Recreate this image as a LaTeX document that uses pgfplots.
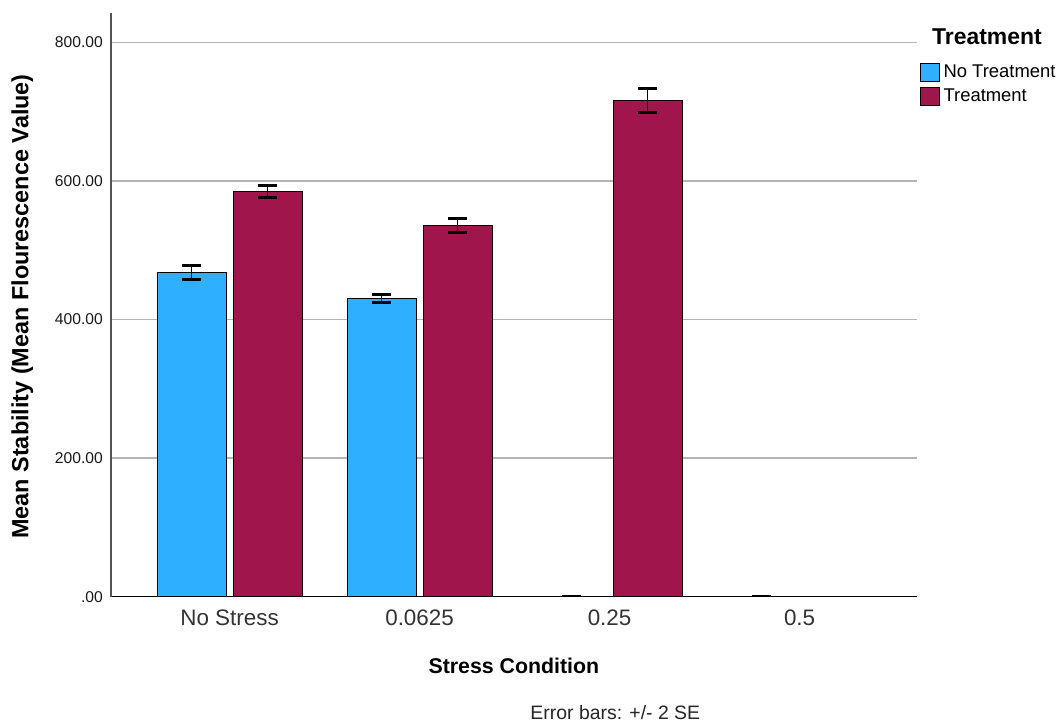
\documentclass[border=0pt]{standalone}
\usepackage{pgfplots}
\pgfplotsset{compat=1.18}
\usepackage{pgfplotstable}
\usepackage{fontspec}
\setmainfont{Liberation Sans}

\definecolor{ntblue}{RGB}{46,175,255}
\definecolor{tmaroon}{RGB}{160,22,76}
\definecolor{gridgrey}{RGB}{180,180,180}
\definecolor{axisgrey}{RGB}{85,85,85}

% mean stability and +/- 2 SE per stress condition (0 = No Stress, 1 = 0.0625, 2 = 0.25, 3 = 0.5)
\pgfplotstableread{
x y err
0 468.4 10.1
1 430.3 6.3
2 0 0
3 0 0
}\notreat
\pgfplotstableread{
x y err
0 584.8 9.2
1 536.0 9.8
2 716.0 17.3
}\treat

\pgfplotsset{
  sebars/.style={
    error bars/.cd, y dir=both, y explicit, error mark=|,
    error bar style={line width=1.5bp, black},
    error mark options={black, mark size=9.5bp, line width=3bp},
  },
}

\begin{document}
\begin{tikzpicture}
\useasboundingbox (0,0) rectangle (1059bp,721bp);
\begin{axis}[
  at={(111bp,124.3bp)}, anchor=south west,
  scale only axis, width=806bp, height=584bp,
  xmin=-0.624, xmax=3.618, ymin=0, ymax=843,
  axis x line=bottom, axis y line=left,
  x axis line style={black, line width=1.5bp, -},
  y axis line style={axisgrey, line width=1.5bp, -},
  major tick length=0pt,
  xtick={0,1,2,3},
  xticklabels={No Stress,0.0625,0.25,0.5},
  ytick={0,200,400,600,800},
  yticklabels={.00,200.00,400.00,600.00,800.00},
  ymajorgrids, grid style={gridgrey, line width=1.5bp},
  xticklabel style={font=\fontsize{22.5}{25}\selectfont, text=black!80, inner sep=0pt, anchor=north},
  xticklabel shift=12.5bp,
  yticklabel style={font=\fontsize{15.7}{18}\selectfont, text=black!90, inner sep=0pt, anchor=east},
  yticklabel shift=8bp,
  xlabel={Stress Condition},
  xlabel style={at={(axis description cs:0.4999,-0.1307)}, anchor=base, inner sep=0pt,
    font=\bfseries\fontsize{21.4}{24}\selectfont},
  ylabel={Mean Stability (Mean Flourescence Value)},
  ylabel style={at={(axis description cs:-0.1024,0.4969)}, anchor=base, inner sep=0pt, rotate=0,
    font=\bfseries\fontsize{23.5}{26}\selectfont},
  ybar=7bp, bar width=69bp,
  legend image code/.code={\draw[#1, line width=1bp] (0bp,-9bp) rectangle (19.5bp,9bp);},
  legend style={draw=none, fill=none, inner sep=0pt, row sep=4.5bp,
    at={(axis description cs:1.0029,0.9134)}, anchor=north west,
    font=\fontsize{18.5}{20}\selectfont, cells={anchor=west},
    nodes={inner sep=0pt, text height=14bp, text depth=4bp},
    /tikz/every odd column/.append style={column sep=3.5bp}},
]
\addplot[fill=ntblue, draw=black, line width=1bp, sebars]
  table[x=x, y=y, y error=err] {\notreat};
\addlegendentry{No Treatment}
\addplot[fill=tmaroon, draw=black, line width=1bp, sebars]
  table[x=x, y=y, y error=err] {\treat};
\addlegendentry{Treatment}
\end{axis}
\node[anchor=west, inner sep=0pt, font=\bfseries\fontsize{23}{26}\selectfont] at (932bp,684.3bp) {Treatment};
\node[anchor=base, inner sep=0pt, text=black!85, font=\fontsize{19.5}{22}\selectfont] at (615.3bp,2bp) {Error bars: +/- 2 SE};
\end{tikzpicture}
\end{document}
